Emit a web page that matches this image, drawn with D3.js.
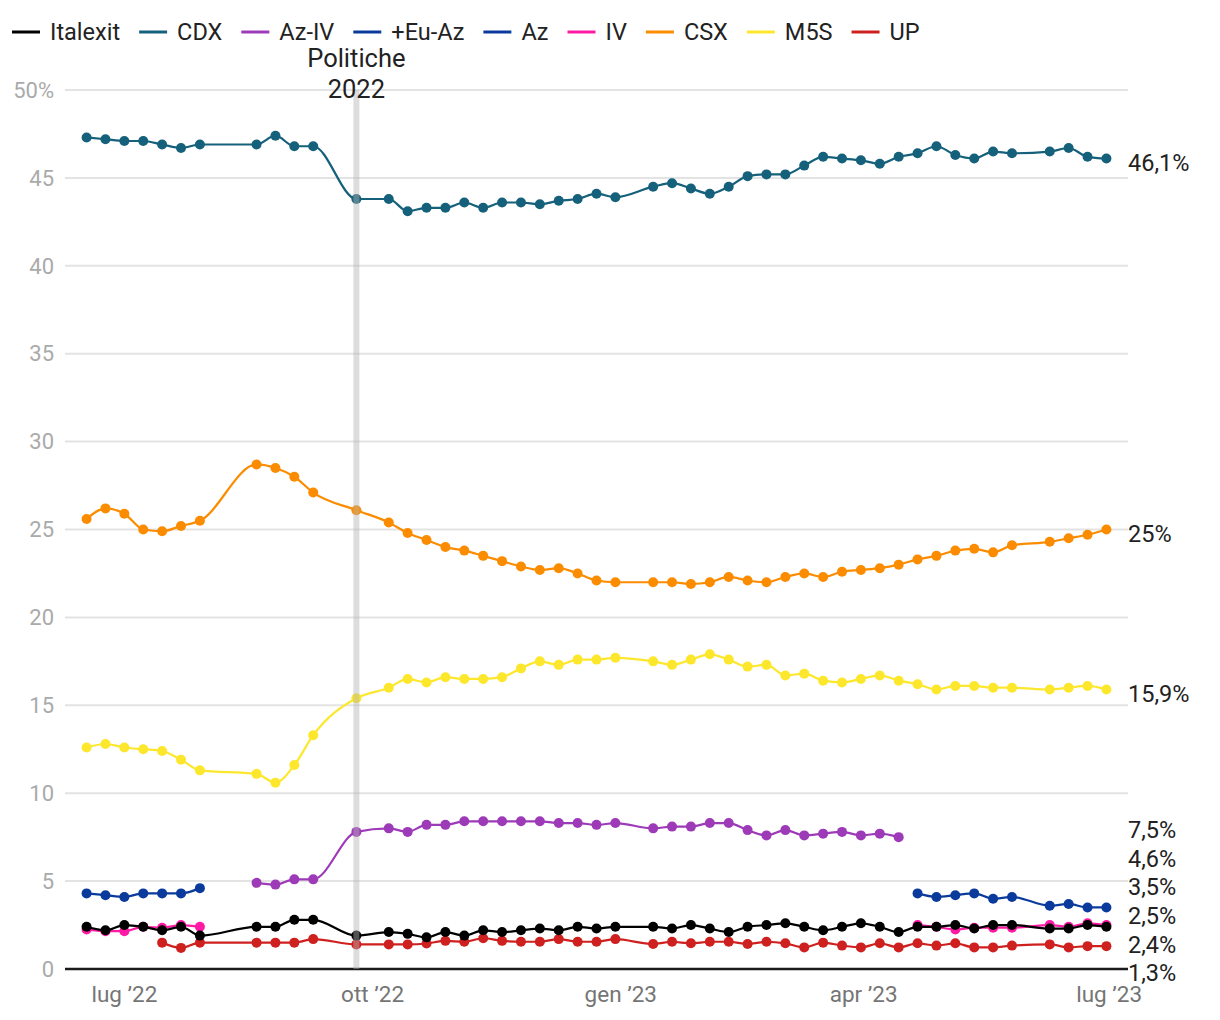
<!DOCTYPE html>
<html><head><meta charset="utf-8">
<script src="https://cdn.jsdelivr.net/npm/d3@7"></script>
<style>body{margin:0;background:#fff;font-family:Roboto,"Noto Sans",sans-serif}</style>
</head><body><svg id="c" width="1220" height="1020"></svg>
<script>
const dates = ["2022-06-17","2022-06-24","2022-07-01","2022-07-08","2022-07-15","2022-07-22","2022-07-29",
"2022-08-19","2022-08-26","2022-09-02","2022-09-09","2022-09-25",
"2022-10-07","2022-10-14","2022-10-21","2022-10-28","2022-11-04","2022-11-11","2022-11-18","2022-11-25",
"2022-12-02","2022-12-09","2022-12-16","2022-12-23","2022-12-30",
"2023-01-13","2023-01-20","2023-01-27","2023-02-03","2023-02-10","2023-02-17","2023-02-24",
"2023-03-03","2023-03-10","2023-03-17","2023-03-24","2023-03-31","2023-04-07","2023-04-14",
"2023-04-21","2023-04-28","2023-05-05","2023-05-12","2023-05-19","2023-05-26",
"2023-06-09","2023-06-16","2023-06-23","2023-06-30"];
const N = null;
const italexit = [2.4,2.2,2.5,2.4,2.2,2.4,1.9, 2.4,2.4,2.8,2.8, 1.9,
  2.1,2.0,1.8,2.1,1.9,2.2,2.1,2.2,2.3,2.2,2.4,2.3,2.4,
  2.4,2.3,2.5,2.3,2.1,2.4,2.5,2.6,2.4,2.2,2.4,2.6,2.4,2.1,2.4,2.4,2.5,2.3,2.5,2.5,
  2.3,2.3,2.5,2.4];
const cdx = [47.3,47.2,47.1,47.1,46.9,46.7,46.9, 46.9,47.4,46.8,46.8, 43.8,
  43.8,43.1,43.3,43.3,43.6,43.3,43.6,43.6,43.5,43.7,43.8,44.1,43.9,
  44.5,44.7,44.4,44.1,44.5,45.1,45.2,45.2,45.7,46.2,46.1,46.0,45.8,46.2,46.4,46.8,46.3,46.1,46.5,46.4,
  46.5,46.7,46.2,46.1];
const azIv = [N,N,N,N,N,N,N, 4.9,4.8,5.1,5.1, 7.8,
  8.0,7.8,8.2,8.2,8.4,8.4,8.4,8.4,8.4,8.3,8.3,8.2,8.3,
  8.0,8.1,8.1,8.3,8.3,7.9,7.6,7.9,7.6,7.7,7.8,7.6,7.7,7.5,N,N,N,N,N,N,
  N,N,N,N];
const euAz = [4.3,4.2,4.1,4.3,4.3,4.3,4.6, N,N,N,N, N,
  N,N,N,N,N,N,N,N,N,N,N,N,N,
  N,N,N,N,N,N,N,N,N,N,N,N,N,N,N,N,N,N,N,N,
  N,N,N,N];
const az = [N,N,N,N,N,N,N, N,N,N,N, N,
  N,N,N,N,N,N,N,N,N,N,N,N,N,
  N,N,N,N,N,N,N,N,N,N,N,N,N,N,4.3,4.1,4.2,4.3,4.0,4.1,
  3.6,3.7,3.5,3.5];
const iv = [2.25,2.15,2.15,2.4,2.35,2.5,2.4, N,N,N,N, N,
  N,N,N,N,N,N,N,N,N,N,N,N,N,
  N,N,N,N,N,N,N,N,N,N,N,N,N,N,2.5,2.4,2.25,2.35,2.35,2.35,
  2.5,2.4,2.6,2.5];
const csx = [25.6,26.2,25.9,25.0,24.9,25.2,25.5, 28.7,28.5,28.0,27.1, 26.1,
  25.4,24.8,24.4,24.0,23.8,23.5,23.2,22.9,22.7,22.8,22.5,22.1,22.0,
  22.0,22.0,21.9,22.0,22.3,22.1,22.0,22.3,22.5,22.3,22.6,22.7,22.8,23.0,23.3,23.5,23.8,23.9,23.7,24.1,
  24.3,24.5,24.7,25.0];
const m5s = [12.6,12.8,12.6,12.5,12.4,11.9,11.3, 11.1,10.6,11.6,13.3, 15.4,
  16.0,16.5,16.3,16.6,16.5,16.5,16.6,17.1,17.5,17.3,17.6,17.6,17.7,
  17.5,17.3,17.6,17.9,17.6,17.2,17.3,16.7,16.8,16.4,16.3,16.5,16.7,16.4,16.2,15.9,16.1,16.1,16.0,16.0,
  15.9,16.0,16.1,15.9];
const up = [N,N,N,N,1.5,1.2,1.5, 1.5,1.5,1.5,1.7, 1.4,
  1.4,1.4,1.45,1.6,1.55,1.75,1.6,1.55,1.55,1.7,1.55,1.55,1.7,
  1.42,1.55,1.46,1.55,1.55,1.42,1.55,1.46,1.23,1.5,1.33,1.23,1.46,1.23,1.46,1.33,1.46,1.23,1.23,1.33,
  1.4,1.23,1.3,1.3];

const seriesNames = ["Italexit","CDX","Az-IV","+Eu-Az","Az","IV","CSX","M5S","UP"];
const seriesValues = [italexit, cdx, azIv, euAz, az, iv, csx, m5s, up];
const seriesColors = ["#000000","#15607a","#9d3ab8","#0a3a9c","#0a3a9c","#ff1aa6","#fb8c00","#fde72c","#cf2020"];
const xTickDates = ["2022-07-01","2022-10-01","2023-01-01","2023-04-01","2023-07-01"];
const xTickLabels = ["lug \u201922","ott \u201922","gen \u201923","apr \u201923","lug \u201923"];
const yTicks = [0,5,10,15,20,25,30,35,40,45,50];
const annotationDate = "2022-09-25";
const annotationLines = ["Politiche","2022"];

(function () {
const parse = d3.utcParse("%Y-%m-%d");
const svg = d3.select("#c");
const mLeft = 65, mRight = 1128, mTop = 90, mBottom = 969;
const x = d3.scaleUtc().domain([parse("2022-06-09"), parse("2023-07-08")]).range([mLeft, mRight]);
const y = d3.scaleLinear().domain([0, 50]).range([mBottom, mTop]);
const font = 'Roboto, "Noto Sans", sans-serif';

svg.append("g").selectAll("line").data(yTicks.filter(t => t > 0)).join("line")
  .attr("x1", mLeft).attr("x2", mRight).attr("y1", d => y(d)).attr("y2", d => y(d))
  .attr("stroke", "#e3e3e3").attr("stroke-width", 2);
svg.append("g").selectAll("text").data(yTicks).join("text")
  .attr("x", 54).attr("y", d => y(d)).attr("dy", "0.35em").attr("text-anchor", "end")
  .attr("font-family", font).attr("font-size", 22).attr("fill", "#aaaaaa")
  .text(d => d === 50 ? d + "%" : d);
svg.append("g").selectAll("text").data(xTickDates).join("text")
  .attr("x", d => x(parse(d))).attr("y", 1002).attr("text-anchor", "middle")
  .attr("font-family", font).attr("font-size", 22.5).attr("fill", "#757575")
  .text((d, i) => xTickLabels[i]);

const line = d3.line().defined(d => d.v != null).x(d => x(d.date)).y(d => y(d.v)).curve(d3.curveMonotoneX);
const series = seriesNames.map((name, i) => ({
  name, color: seriesColors[i],
  points: dates.map((dt, j) => ({date: parse(dt), v: seriesValues[i][j]}))
}));
const gS = svg.append("g");
series.slice().reverse().forEach(s => {
  const g = gS.append("g");
  g.append("path").datum(s.points).attr("d", line).attr("fill", "none")
    .attr("stroke", s.color).attr("stroke-width", 2.2);
  g.selectAll("circle").data(s.points.filter(p => p.v != null)).join("circle")
    .attr("cx", p => x(p.date)).attr("cy", p => y(p.v)).attr("r", 5).attr("fill", s.color);
});

svg.append("line").attr("x1", mLeft).attr("x2", mRight).attr("y1", y(0)).attr("y2", y(0))
  .attr("stroke", "#1a1a1a").attr("stroke-width", 2.5);

const ax = x(parse(annotationDate));
svg.append("rect").attr("x", ax - 3).attr("width", 6).attr("y", y(50)).attr("height", y(0) - y(50))
  .attr("fill", "#b4b4b4").attr("opacity", 0.45);
svg.append("g").selectAll("text").data(annotationLines).join("text")
  .attr("x", ax).attr("y", (d, i) => 67 + i * 30.5).attr("text-anchor", "middle")
  .attr("font-family", font).attr("font-size", 25.5).attr("fill", "#222").text(d => d);

const fmt = v => (Math.round(v * 10) / 10).toFixed(1).replace(/\.0$/, "").replace(".", ",") + "%";
const labels = series.map(s => {
  const last = s.points.filter(p => p.v != null).pop();
  return {text: fmt(last.v), target: y(last.v) + 4};
}).sort((a, b) => a.target - b.target);
const gap = 28.6, maxPos = y(0) + 4;
let clusters = labels.map(l => ({items: [l], center: l.target}));
const bottomOf = c => c.center + (c.items.length - 1) * gap / 2;
const topOf = c => c.center - (c.items.length - 1) * gap / 2;
let merged = true;
while (merged) {
  merged = false;
  clusters.forEach(c => { if (bottomOf(c) > maxPos) c.center -= bottomOf(c) - maxPos; });
  for (let i = 0; i < clusters.length - 1; i++) {
    const a = clusters[i], b = clusters[i + 1];
    if (topOf(b) - bottomOf(a) < gap) {
      const items = a.items.concat(b.items);
      clusters.splice(i, 2, {items, center: d3.mean(items, d => d.target)});
      merged = true; break;
    }
  }
}
clusters.forEach(c => c.items.forEach((it, k) => { it.pos = c.center + (k - (c.items.length - 1) / 2) * gap; }));
svg.append("g").selectAll("text").data(labels).join("text")
  .attr("x", 1128).attr("y", d => d.pos).attr("dy", "0.35em")
  .attr("font-family", font).attr("font-size", 23.5).attr("fill", "#222").text(d => d.text);

const lg = svg.append("g");
let lx = 12;
series.forEach(s => {
  lg.append("line").attr("x1", lx).attr("x2", lx + 28).attr("y1", 32).attr("y2", 32)
    .attr("stroke", s.color).attr("stroke-width", 3);
  const t = lg.append("text").attr("x", lx + 38).attr("y", 32).attr("dy", "0.35em")
    .attr("font-family", font).attr("font-size", 23.5).attr("fill", "#222").text(s.name);
  lx += 38 + t.node().getComputedTextLength() + 19;
});
})();
</script></body></html>
